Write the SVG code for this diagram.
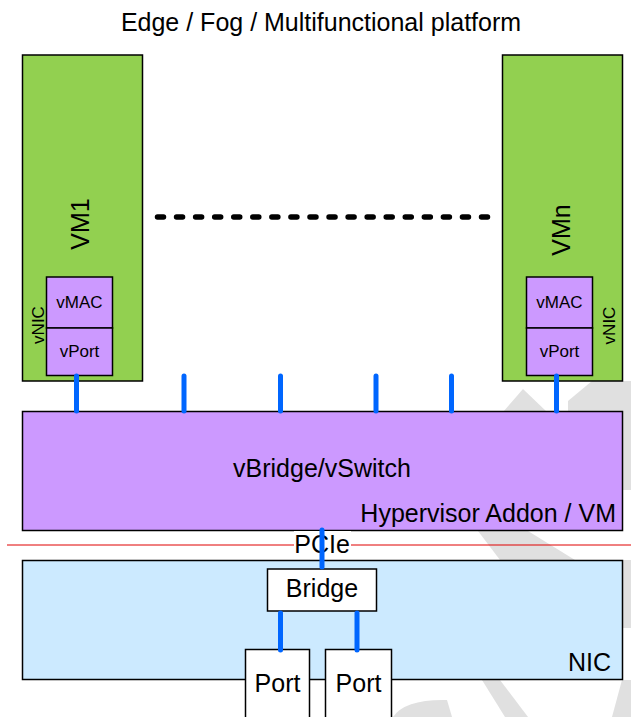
<svg xmlns="http://www.w3.org/2000/svg" width="631" height="717" viewBox="0 0 631 717">
<style>
text{font-family:"Liberation Sans",Arial,sans-serif;fill:#000}
.big{font-size:25px}
.sm{font-size:17px}
.mid{text-anchor:middle}
.end{text-anchor:end}
.box{stroke:#000;stroke-width:1.5}
.vm{fill:#92d050}
.pur{fill:#cc99ff}
.nic{fill:#cceaff}
.wh{fill:#fff}
.wm{fill:#e0e0e0}
.link{stroke:#0066ff;stroke-width:5;stroke-linecap:round;fill:none}
</style>
<rect width="631" height="717" fill="#fff"/>
<g id="watermark">
<polygon class="wm" points="503,412 523,389 547,412"/>
<polygon class="wm" points="568,412 568,401 592,381 631,381 631,412"/>
<rect class="wm" x="622" y="412" width="9" height="78"/>
<polygon class="wm" points="478,531 528,531 575,560 500,560"/>
<rect class="wm" x="622" y="560" width="9" height="68"/>
<polygon class="wm" points="622,680 631,680 631,717 612,717"/>
<polygon class="wm" points="482,680 500,680 528,717 505,717"/>
<path class="wm" d="M393,717 Q405,699 447,700 L452,717 Z"/>
</g>
<g id="title"><text class="big mid" x="321" y="31">Edge / Fog / Multifunctional platform</text></g>
<g id="vm1">
<rect class="box vm" x="22.5" y="55" width="120" height="326"/>
<text class="big mid" transform="translate(89,224) rotate(-90)">VM1</text>
<text class="sm mid" transform="translate(43.5,325) rotate(-90)">vNIC</text>
</g>
<g id="vm1-vmac"><rect class="box pur" x="46.5" y="277" width="66" height="51"/><text class="sm mid" x="79.5" y="308">vMAC</text></g>
<g id="vm1-vport"><rect class="box pur" x="46.5" y="328" width="66" height="47.5"/><text class="sm mid" x="79.5" y="357">vPort</text></g>
<g id="vmn">
<rect class="box vm" x="502.5" y="55" width="120" height="326"/>
<text class="big mid" transform="translate(570,230) rotate(-90)">VMn</text>
<text class="sm mid" transform="translate(615,325.5) rotate(-90)">vNIC</text>
</g>
<g id="vmn-vmac"><rect class="box pur" x="526.5" y="277" width="66" height="51"/><text class="sm mid" x="559.5" y="308">vMAC</text></g>
<g id="vmn-vport"><rect class="box pur" x="526.5" y="328" width="66" height="47.5"/><text class="sm mid" x="559.5" y="357">vPort</text></g>
<g id="vbridge">
<rect class="box pur" x="22.5" y="411.5" width="600" height="119"/>
<text class="big mid" x="322" y="477">vBridge/vSwitch</text>
<text class="big end" x="616" y="522">Hypervisor Addon / VM</text>
</g>
<g id="boundary"><line x1="7" y1="545" x2="631" y2="545" stroke="#e00000" stroke-width="1"/></g>
<g id="pcie"><rect x="294" y="531" width="57" height="26" fill="#fff"/><text class="big mid" x="322" y="553">PCIe</text></g>
<g id="nic">
<rect class="box nic" x="22.5" y="560.5" width="600" height="119"/>
<text class="big end" x="611" y="671">NIC</text>
</g>
<g id="bridge"><rect class="box wh" x="267.5" y="569" width="109" height="42"/><text class="big mid" x="322" y="597">Bridge</text></g>
<g id="port1"><rect class="box wh" x="245.5" y="649.5" width="64" height="80"/><text class="big mid" x="277.5" y="692">Port</text></g>
<g id="port2"><rect class="box wh" x="325.5" y="649.5" width="66" height="80"/><text class="big mid" x="358.5" y="692">Port</text></g>
<g id="connectors">
<line x1="157.5" y1="217" x2="487.5" y2="217" stroke="#000" stroke-width="5.5" stroke-linecap="round" stroke-dasharray="6 13.06"/>
<line class="link" x1="76.5" y1="376" x2="76.5" y2="411"/>
<line class="link" x1="184" y1="376" x2="184" y2="411"/>
<line class="link" x1="280.5" y1="376" x2="280.5" y2="411"/>
<line class="link" x1="376" y1="376" x2="376" y2="411"/>
<line class="link" x1="451.5" y1="376" x2="451.5" y2="411"/>
<line class="link" x1="556.5" y1="376" x2="556.5" y2="411"/>
<line class="link" x1="322" y1="530" x2="322" y2="567"/>
<line class="link" x1="280.5" y1="613" x2="280.5" y2="650"/>
<line class="link" x1="357" y1="613" x2="357" y2="650"/>
</g>
</svg>
